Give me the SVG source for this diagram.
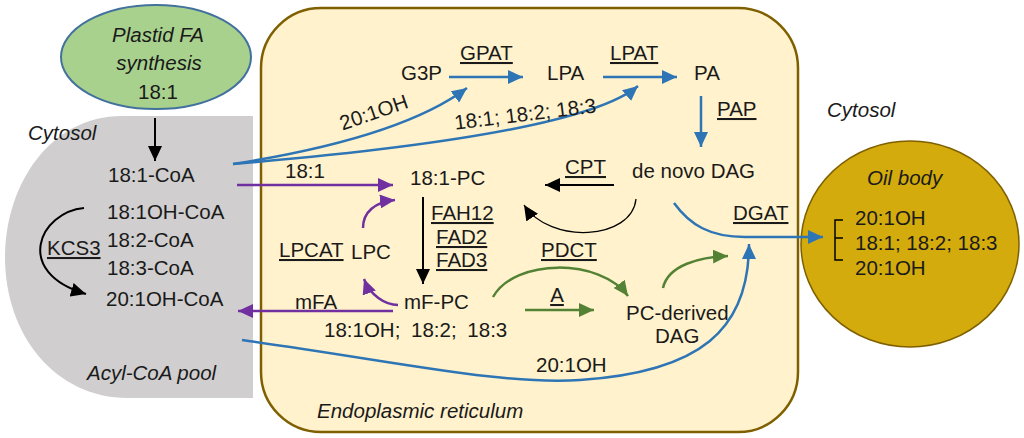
<svg xmlns="http://www.w3.org/2000/svg" width="1024" height="438" viewBox="0 0 1024 438">
<style>
.t{font-family:"Liberation Sans",Arial,sans-serif;font-size:20.5px;fill:#1a1a1a}
.i{font-style:italic}
.u{text-decoration:underline}
.m{text-anchor:middle}
.bl{fill:none;stroke:#2E75B6;stroke-width:2.5}
.pu{fill:none;stroke:#7030A0;stroke-width:2.5}
.gr{fill:none;stroke:#548235;stroke-width:2.5}
.bk{fill:none;stroke:#000;stroke-width:2}
.bk1{fill:none;stroke:#000;stroke-width:1.3}
</style>
<defs>
<marker id="ab" markerUnits="userSpaceOnUse" markerWidth="16" markerHeight="14" refX="15" refY="7" orient="auto"><path d="M0,0 L15,7 L0,14 Z" fill="#2E75B6"/></marker>
<marker id="ap" markerUnits="userSpaceOnUse" markerWidth="16" markerHeight="14" refX="15" refY="7" orient="auto"><path d="M0,0 L15,7 L0,14 Z" fill="#7030A0"/></marker>
<marker id="ag" markerUnits="userSpaceOnUse" markerWidth="16" markerHeight="14" refX="15" refY="7" orient="auto"><path d="M0,0 L15,7 L0,14 Z" fill="#548235"/></marker>
<marker id="ak" markerUnits="userSpaceOnUse" markerWidth="16" markerHeight="14" refX="15" refY="7" orient="auto"><path d="M0,0 L15,7 L0,14 Z" fill="#000"/></marker>
</defs>

<g id="acyl-coa-pool">
<path d="M253,116 H122 C50,116 5,185 5,257 C5,335 55,398 128,398 H253 Z" fill="#D0CECE"/>
<text class="t i" x="28" y="140">Cytosol</text>
<text class="t" x="108" y="182">18:1-CoA</text>
<text class="t" x="107" y="219">18:1OH-CoA</text>
<text class="t" x="107" y="247">18:2-CoA</text>
<text class="t" x="107" y="275">18:3-CoA</text>
<text class="t" x="106" y="306">20:1OH-CoA</text>
<text class="t u" x="47" y="255">KCS3</text>
<text class="t i" x="87" y="380">Acyl-CoA pool</text>
</g>

<g id="er">
<rect x="261" y="8" width="537" height="424" rx="60" ry="60" fill="#FFF2CC" stroke="#7F6000" stroke-width="2.5"/>
<text class="t i" x="317" y="418">Endoplasmic reticulum</text>
</g>

<g id="plastid">
<ellipse cx="156" cy="57" rx="95" ry="52" fill="#A9D18E" stroke="#41719C" stroke-width="2"/>
<text class="t i m" x="158" y="42">Plastid FA</text>
<text class="t i m" x="159" y="70">synthesis</text>
<text class="t m" x="158" y="99">18:1</text>
</g>

<g id="oil-body">
<ellipse cx="910" cy="244" rx="109" ry="103" fill="#D3AB0C" stroke="#7F6000" stroke-width="1.5"/>
<text class="t i" x="867" y="185">Oil body</text>
<path d="M843,220 H835 V260 H843 M835,238 H843" fill="none" stroke="#000" stroke-width="1.5"/>
<text class="t" x="855" y="225">20:1OH</text>
<text class="t" x="855" y="250">18:1; 18:2; 18:3</text>
<text class="t" x="855" y="275">20:1OH</text>
</g>

<g id="cytosol-label"><text class="t i" x="827" y="117">Cytosol</text></g>

<g id="g3p"><text class="t" x="401" y="80">G3P</text></g>
<g id="lpa"><text class="t" x="547" y="80">LPA</text></g>
<g id="pa"><text class="t" x="694" y="80">PA</text></g>
<g id="denovo-dag"><text class="t" x="632" y="178">de novo DAG</text></g>
<g id="pc181"><text class="t" x="410" y="185">18:1-PC</text></g>
<g id="lpc"><text class="t" x="351" y="259">LPC</text></g>
<g id="mfpc">
<text class="t" x="404" y="309">mF-PC</text>
<text class="t" x="324" y="337" style="word-spacing:5px">18:1OH; 18:2; 18:3</text>
</g>
<g id="pc-dag">
<text class="t" x="626" y="320">PC-derived</text>
<text class="t" x="655" y="343">DAG</text>
</g>

<g id="enzymes">
<text class="t u" x="460" y="60">GPAT</text>
<text class="t u" x="610" y="60">LPAT</text>
<text class="t u" x="717" y="116">PAP</text>
<text class="t u" x="565" y="174">CPT</text>
<text class="t u" x="431" y="220">FAH12</text>
<text class="t u" x="436" y="244">FAD2</text>
<text class="t u" x="436" y="267">FAD3</text>
<text class="t u" x="279" y="257">LPCAT</text>
<text class="t u" x="541" y="257">PDCT</text>
<text class="t u m" x="557" y="302">A</text>
<text class="t u" x="733" y="220">DGAT</text>
</g>

<g id="connectors">
<path class="bk" d="M155,118 V161" marker-end="url(#ak)"/>
<path class="bk" d="M84,208 C40,212 12,272 86,294" marker-end="url(#ak)"/>
<path class="bl" d="M233,164 Q400,138 467,88" marker-end="url(#ab)"/>
<path class="bl" d="M233,164 Q580,135 638,86" marker-end="url(#ab)"/>
<path class="bl" d="M449,77 H523" marker-end="url(#ab)"/>
<path class="bl" d="M603,77 H677" marker-end="url(#ab)"/>
<path class="bl" d="M701,96 V147" marker-end="url(#ab)"/>
<path class="bk" d="M614,185 H545" marker-end="url(#ak)"/>
<path class="bk1" d="M636,199 C632,240 550,245 524,205" marker-end="url(#ak)"/>
<path class="pu" d="M237,185 H393" marker-end="url(#ap)"/>
<path class="pu" d="M363,228 C363,212 375,202 395,200" marker-end="url(#ap)"/>
<path class="bk" d="M423,197 V284" marker-end="url(#ak)"/>
<path class="pu" d="M398,305 C385,305 370,295 364,279" marker-end="url(#ap)"/>
<path class="pu" d="M393,311 H238" marker-end="url(#ap)"/>
<path class="gr" d="M493,297 C515,258 600,258 628,296" marker-end="url(#ag)"/>
<path class="gr" d="M525,310 H594" marker-end="url(#ag)"/>
<path class="gr" d="M663,288 C668,265 700,257 728,256" marker-end="url(#ag)"/>
<path class="bl" d="M242,340 C400,362 500,385 580,380 C700,372 749,330 749,244" marker-end="url(#ab)"/>
<path class="bl" d="M674,203 C690,225 710,237 745,237 L823,237" marker-end="url(#ab)"/>
<text class="t" transform="translate(376,119) rotate(-19)" text-anchor="middle">20:1OH</text>
<text class="t" transform="translate(526,121) rotate(-7)" text-anchor="middle">18:1; 18:2; 18:3</text>
<text class="t" x="285" y="178">18:1</text>
<text class="t" x="295" y="309">mFA</text>
<text class="t" x="536" y="372">20:1OH</text>
</g>
</svg>
